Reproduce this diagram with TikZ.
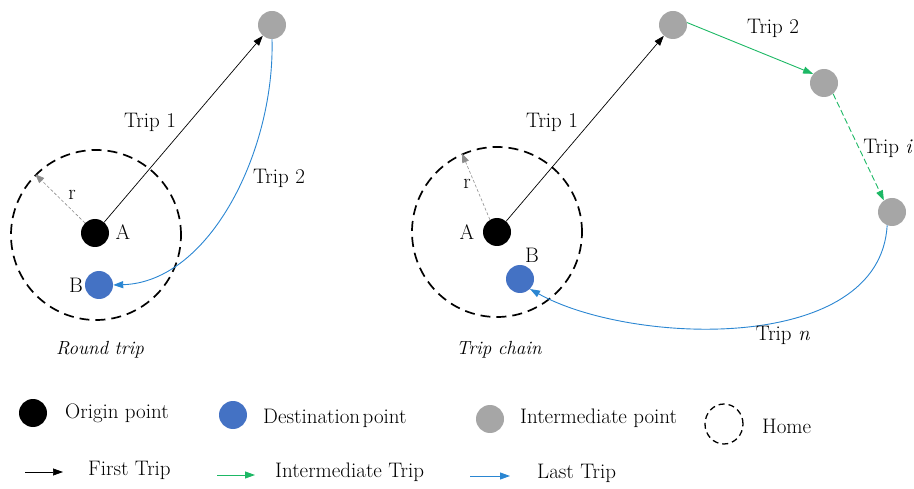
\documentclass[tikz,border=0pt]{standalone}
\usepackage{fontspec}
\usetikzlibrary{arrows.meta,shapes.geometric}
\definecolor{dotblue}{HTML}{4472C4}
\definecolor{dotgray}{HTML}{A6A6A6}
\definecolor{lineblue}{HTML}{2A86D2}
\definecolor{linegreen}{HTML}{1DB865}
\definecolor{rgray}{HTML}{8C8C8C}
\begin{document}
\begin{tikzpicture}[x=1pt,y=-1pt,
  every node/.style={font=\fontsize{21}{24}\selectfont, inner sep=0pt},
  dotA/.style={circle, fill=black, minimum size=28pt},
  dotB/.style={circle, fill=dotblue, minimum size=28pt},
  dotG/.style={circle, fill=dotgray, minimum size=28pt},
  homecircle/.style={circle, draw=black, line width=1.7pt, dash pattern=on 10pt off 6pt, minimum size=170pt},
  tip/.style={-{Triangle[length=10pt,width=7pt]}},
  tripblack/.style={tip, draw=black, line width=0.7pt},
  tripblue/.style={tip, draw=lineblue, line width=0.9pt},
  tripgreen/.style={tip, draw=linegreen, line width=0.9pt},
  radius arrow/.style={-{Triangle[length=9pt,width=7pt]}, draw=rgray, line width=0.6pt, dash pattern=on 3pt off 2pt},
  lbl/.style={anchor=center},
  capt/.style={anchor=center, font=\fontsize{19}{22}\selectfont\itshape},
  leg/.style={anchor=west}
]
\useasboundingbox (0,0) rectangle (914,489);

% ---------- left panel: round trip ----------
\node[homecircle] (homeL) at (96,235) {};
\node[dotA] (AL) at (95,233) {};
\node[dotB] (BL) at (99,285) {};
\node[dotG] (GL) at (272,25) {};
\node[lbl] (AlabL) at (123,232) {A};
\node[lbl] (BlabL) at (76,285) {B};
\node[lbl] (rlabL) at (72,195) {r};
\draw[radius arrow] (AL.135) -- (homeL.135);
\draw[tripblack] (AL) -- (GL);
\draw[tripblue] (GL.south) .. controls (275,150) and (210,282) .. (BL.east);
\node[lbl] (t1L) at (150,122) {Trip 1};
\node[lbl] (t2L) at (279,178) {Trip 2};
\node[capt] (capL) at (100,350) {Round trip};

% ---------- right panel: trip chain ----------
\node[homecircle] (homeR) at (497,232) {};
\node[dotA] (AR) at (497,232) {};
\node[dotB] (BR) at (520,279) {};
\node[dotG] (GR1) at (673,25) {};
\node[dotG] (GR2) at (824,83) {};
\node[dotG] (GR3) at (892,212) {};
\node[lbl] (AlabR) at (467,232) {A};
\node[lbl] (BlabR) at (532,255) {B};
\node[lbl] (rlabR) at (467,184) {r};
\draw[radius arrow] (AR.120) -- (homeR.114);
\draw[tripblack] (AR) -- (GR1);
\draw[tripgreen] (GR1.10) -- (GR2.140);
\draw[tripgreen, dash pattern=on 6pt off 3pt] (GR2.-50) -- (GR3.125);
\draw[tripblue] (GR3.-110) .. controls (880,355) and (630,345) .. (BR.-45);
\node[lbl] (t1R) at (552,122) {Trip 1};
\node[lbl] (t2R) at (773,28) {Trip 2};
\node[lbl] (tiR) at (888,148) {Trip \textit{i}};
\node[lbl] (tnR) at (783,335) {Trip \textit{n}};
\node[capt] (capR) at (499,350) {Trip chain};

% ---------- legend ----------
\node[dotA] (legA) at (33,413) {};
\node[leg] (legAt) at (65,413) {Origin point};
\node[dotB] (legB) at (233,415) {};
\node[leg] (legBt) at (263,418) {Destination\hspace{0.12em}point};
\node[dotG] (legG) at (490,419) {};
\node[leg] (legGt) at (520,418) {Intermediate point};
\node[ellipse, draw=black, line width=1.3pt, dash pattern=on 6pt off 4pt, minimum width=38pt, minimum height=40pt] (legH) at (724,424) {};
\node[leg] (legHt) at (762,426) {Home};

\coordinate (lk1) at (25,472);
\coordinate (lk2) at (63,472);
\draw[tripblack] (lk1) -- (lk2);
\node[leg] (lkt) at (88,470) {First Trip};
\coordinate (lg1) at (217,475);
\coordinate (lg2) at (255,475);
\draw[tripgreen] (lg1) -- (lg2);
\node[leg] (lgt) at (275,472) {Intermediate Trip};
\coordinate (lb1) at (470,476);
\coordinate (lb2) at (510,476);
\draw[tripblue] (lb1) -- (lb2);
\node[leg] (lbt) at (537,473) {Last Trip};
\end{tikzpicture}
\end{document}
